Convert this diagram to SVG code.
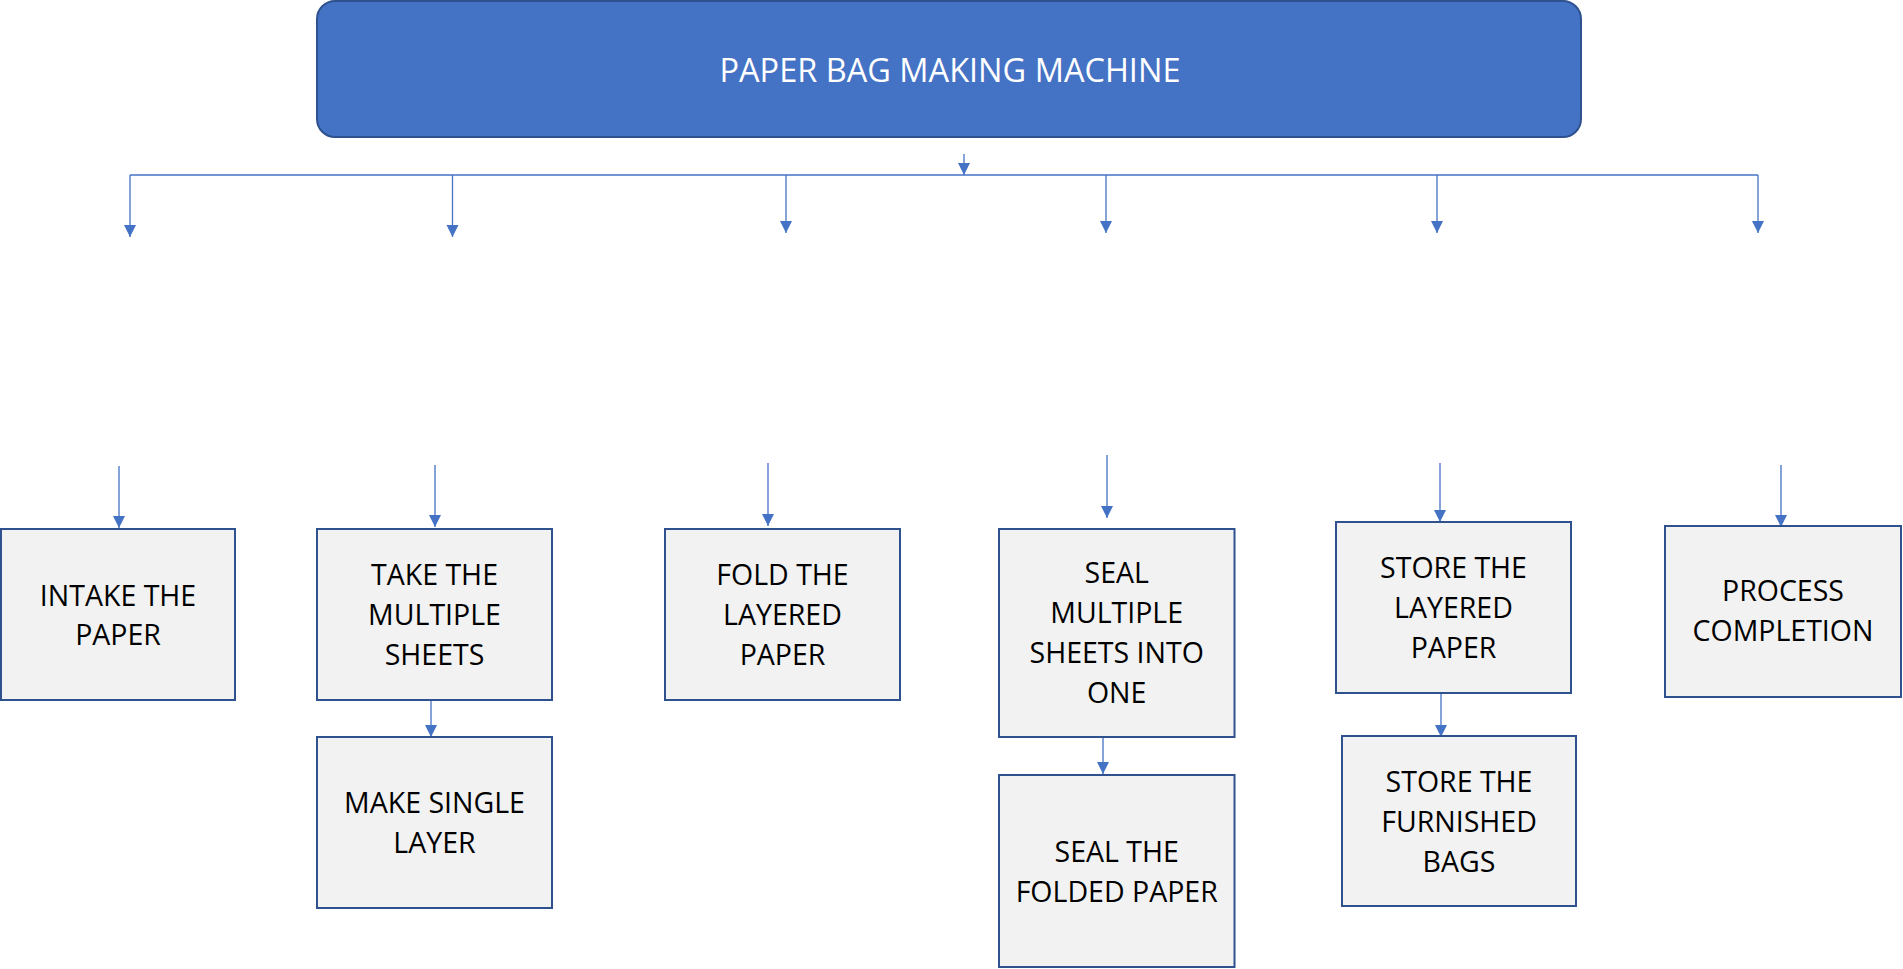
<svg xmlns="http://www.w3.org/2000/svg" width="1903" height="969" viewBox="0 0 1903 969">
<style>
.node{fill:#F2F2F2;stroke:#2F528F;stroke-width:2}
.t{font-family:"Open Sans","Liberation Sans",sans-serif;font-size:28.5px;fill:#000;text-anchor:middle}
.title{font-family:"Open Sans","Liberation Sans",sans-serif;font-size:32.5px;fill:#fff;text-anchor:middle}
.c{stroke:#4472C4;stroke-width:1.3;fill:none}
</style>
<defs>
<marker id="ah" markerUnits="userSpaceOnUse" markerWidth="12" markerHeight="14" refX="12" refY="6" orient="auto" viewBox="0 0 12 12">
<path d="M0,0 L12,6 L0,12 z" fill="#4472C4"/>
</marker>
</defs>
<rect width="1903" height="969" fill="#fff"/>
<g id="main">
<rect x="317" y="1" width="1264" height="136" rx="18" ry="18" fill="#4472C4" stroke="#2F528F" stroke-width="2"/>
<text class="title" x="950" y="82">PAPER BAG MAKING MACHINE</text>
</g>
<g id="connectors">
<line class="c" x1="964" y1="154" x2="964" y2="175" marker-end="url(#ah)"/>
<line class="c" x1="130" y1="175" x2="1758" y2="175"/>
<line class="c" x1="130" y1="175" x2="130" y2="237" marker-end="url(#ah)"/>
<line class="c" x1="452.5" y1="175" x2="452.5" y2="237" marker-end="url(#ah)"/>
<line class="c" x1="786" y1="175" x2="786" y2="233" marker-end="url(#ah)"/>
<line class="c" x1="1106" y1="175" x2="1106" y2="233" marker-end="url(#ah)"/>
<line class="c" x1="1437" y1="175" x2="1437" y2="233" marker-end="url(#ah)"/>
<line class="c" x1="1758" y1="175" x2="1758" y2="233" marker-end="url(#ah)"/>
<line class="c" x1="119" y1="466" x2="119" y2="528" marker-end="url(#ah)"/>
<line class="c" x1="435" y1="465" x2="435" y2="527" marker-end="url(#ah)"/>
<line class="c" x1="768" y1="463" x2="768" y2="526" marker-end="url(#ah)"/>
<line class="c" x1="1107" y1="455" x2="1107" y2="518" marker-end="url(#ah)"/>
<line class="c" x1="1440" y1="463" x2="1440" y2="522" marker-end="url(#ah)"/>
<line class="c" x1="1781" y1="465" x2="1781" y2="527" marker-end="url(#ah)"/>
<line class="c" x1="431" y1="700" x2="431" y2="737" marker-end="url(#ah)"/>
<line class="c" x1="1103" y1="737" x2="1103" y2="774" marker-end="url(#ah)"/>
<line class="c" x1="1441" y1="693" x2="1441" y2="737" marker-end="url(#ah)"/>
</g>
<g id="n1">
<rect class="node" x="1" y="529" width="234" height="171"/>
<text class="t" x="118" y="606">INTAKE THE</text>
<text class="t" x="118" y="645">PAPER</text>
</g>
<g id="n2">
<rect class="node" x="317" y="529" width="235" height="171"/>
<text class="t" x="434.5" y="585">TAKE THE</text>
<text class="t" x="434.5" y="625">MULTIPLE</text>
<text class="t" x="434.5" y="665">SHEETS</text>
</g>
<g id="n2b">
<rect class="node" x="317" y="737" width="235" height="171"/>
<text class="t" x="434.5" y="813">MAKE SINGLE</text>
<text class="t" x="434.5" y="853">LAYER</text>
</g>
<g id="n3">
<rect class="node" x="665" y="529" width="235" height="171"/>
<text class="t" x="782.5" y="585">FOLD THE</text>
<text class="t" x="782.5" y="625">LAYERED</text>
<text class="t" x="782.5" y="665">PAPER</text>
</g>
<g id="n4">
<rect class="node" x="999" y="529" width="235.5" height="208"/>
<text class="t" x="1116.7" y="583">SEAL</text>
<text class="t" x="1116.7" y="623">MULTIPLE</text>
<text class="t" x="1116.7" y="663">SHEETS INTO</text>
<text class="t" x="1116.7" y="703">ONE</text>
</g>
<g id="n4b">
<rect class="node" x="999" y="775" width="235.5" height="192"/>
<text class="t" x="1116.7" y="862">SEAL THE</text>
<text class="t" x="1116.7" y="902">FOLDED PAPER</text>
</g>
<g id="n5">
<rect class="node" x="1336" y="522" width="235" height="171"/>
<text class="t" x="1453.5" y="578">STORE THE</text>
<text class="t" x="1453.5" y="618">LAYERED</text>
<text class="t" x="1453.5" y="658">PAPER</text>
</g>
<g id="n5b">
<rect class="node" x="1342" y="736" width="234" height="170"/>
<text class="t" x="1459" y="792">STORE THE</text>
<text class="t" x="1459" y="832">FURNISHED</text>
<text class="t" x="1459" y="872">BAGS</text>
</g>
<g id="n6">
<rect class="node" x="1665" y="526" width="236" height="171"/>
<text class="t" x="1783" y="601">PROCESS</text>
<text class="t" x="1783" y="641">COMPLETION</text>
</g>
</svg>
